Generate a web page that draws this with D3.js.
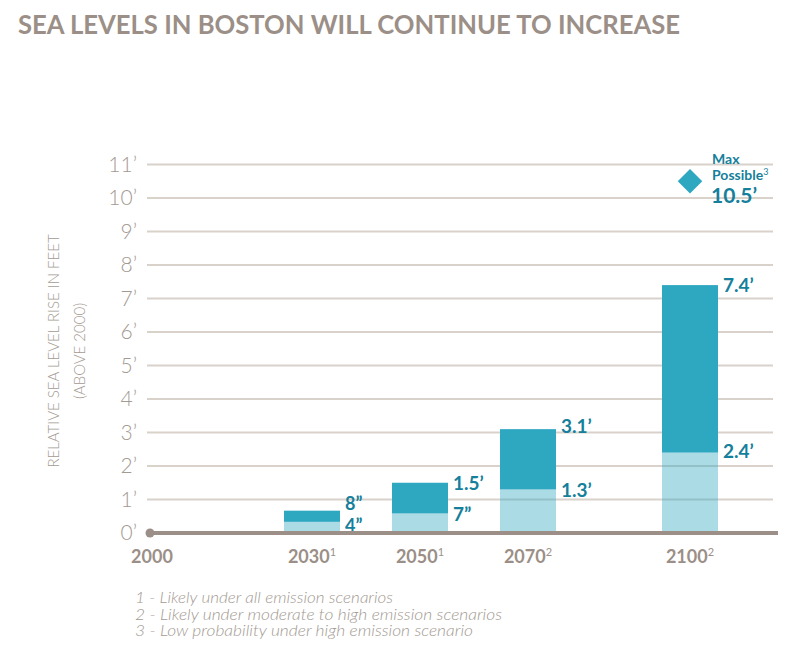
<!DOCTYPE html>
<html><head><meta charset="utf-8">
<script src="https://cdn.jsdelivr.net/npm/d3@7"></script>
<style>body{margin:0;background:#fff}svg{display:block}</style>
</head><body>
<script>
const years = [2030, 2050, 2070, 2100];
const supers = ["1", "1", "2", "2"];
const lowVals = [4/12, 7/12, 1.3, 2.4];
const highVals = [8/12, 1.5, 3.1, 7.4];
const lowLabels = ["4\u201D", "7\u201D", "1.3\u2019", "2.4\u2019"];
const highLabels = ["8\u201D", "1.5\u2019", "3.1\u2019", "7.4\u2019"];
const maxYear = 2100, maxVal = 10.5, maxLabel = "10.5\u2019";
const yTicks = [0,1,2,3,4,5,6,7,8,9,10,11];
const footnotes = ["1 - Likely under all emission scenarios","2 - Likely under moderate to high emission scenarios","3 - Low probability under high emission scenario"];
const footWidths = [258, 367, 338];

const W = 811, H = 657;
const svg = d3.select("body").append("svg").attr("width", W).attr("height", H);
const gray = "#9b8f87", teal = "#2ea7c1", tealText = "#167f9b";
const FF = "Lato, 'Open Sans', sans-serif";

const x = d3.scaleLinear().domain([2000, 2100]).range([150, 690]);
const y = d3.scaleLinear().domain([0, 11]).range([533, 164.5]);
const bw = 56;

svg.append("text").attr("x", 18).attr("y", 34).attr("font-family", FF)
  .attr("font-weight", 700).attr("font-size", 26).attr("fill", gray)
  .attr("textLength", 662).attr("lengthAdjust", "spacingAndGlyphs")
  .text("SEA LEVELS IN BOSTON WILL CONTINUE TO INCREASE");

// gridlines
svg.append("g").selectAll("line").data(yTicks.filter(d => d > 0)).join("line")
  .attr("x1", 147).attr("x2", 773).attr("y1", d => y(d)).attr("y2", d => y(d))
  .attr("stroke", "#d9d2cb").attr("stroke-width", 2);

// y tick labels
svg.append("g").selectAll("text").data(yTicks).join("text")
  .attr("x", 137).attr("y", d => y(d)).attr("dy", "0.35em").attr("text-anchor", "end")
  .attr("font-family", FF).attr("font-weight", 300)
  .attr("font-size", 21).attr("fill", "#a39a92").text(d => d + "\u2019");

// y title
const yt = svg.append("g").attr("transform", "translate(0,351) rotate(-90)");
yt.append("text").attr("x", 0).attr("y", 59).attr("text-anchor", "middle")
  .attr("font-family", FF).attr("font-weight", 300)
  .attr("font-size", 15).attr("fill", "#a39a92").text("RELATIVE SEA LEVEL RISE IN FEET");
yt.append("text").attr("x", 0).attr("y", 85).attr("text-anchor", "middle")
  .attr("font-family", FF).attr("font-weight", 300)
  .attr("font-size", 15).attr("fill", "#a39a92").text("(ABOVE 2000)");

// bars
const bars = svg.append("g");
years.forEach((yr, i) => {
  bars.append("rect").attr("x", x(yr) - bw/2).attr("width", bw)
    .attr("y", y(highVals[i])).attr("height", y(lowVals[i]) - y(highVals[i])).attr("fill", teal);
  bars.append("rect").attr("x", x(yr) - bw/2).attr("width", bw)
    .attr("y", y(lowVals[i])).attr("height", y(0) - y(lowVals[i])).attr("fill", teal).attr("fill-opacity", 0.4);
});

// value labels
const hiOff = [-7, 0, -3, 0], loOff = [4, 1, 1, -1];
years.forEach((yr, i) => {
  svg.append("text").attr("x", x(yr) + bw/2 + 5).attr("y", y(highVals[i]) + hiOff[i]).attr("dy", "0.36em")
    .attr("font-family", FF).attr("font-weight", 700).attr("font-size", i === 0 ? 18 : 19)
    .attr("fill", tealText).text(highLabels[i]);
  svg.append("text").attr("x", x(yr) + bw/2 + 5).attr("y", y(lowVals[i]) + loOff[i]).attr("dy", "0.36em")
    .attr("font-family", FF).attr("font-weight", 700).attr("font-size", i === 0 ? 18 : 19)
    .attr("fill", tealText).text(lowLabels[i]);
});

// baseline
svg.append("line").attr("x1", 150).attr("x2", 778).attr("y1", y(0)).attr("y2", y(0))
  .attr("stroke", gray).attr("stroke-width", 4);
svg.append("circle").attr("cx", x(2000)).attr("cy", y(0)).attr("r", 4.5).attr("fill", gray);

// x labels
const xl = svg.append("g");
xl.append("text").attr("x", x(2000) + 2).attr("y", 563).attr("text-anchor", "middle")
  .attr("font-family", FF).attr("font-weight", 700).attr("font-size", 18)
  .attr("fill", gray).text("2000");
years.forEach((yr, i) => {
  const t = xl.append("text").attr("x", x(yr)).attr("y", 563).attr("text-anchor", "middle")
    .attr("font-family", FF).attr("font-weight", 700).attr("font-size", 18)
    .attr("fill", gray);
  t.append("tspan").text(yr);
  t.append("tspan").attr("font-size", 11).attr("dy", -7).attr("font-weight", 400).text(supers[i]);
});

// max possible
const mx = x(maxYear), my = y(maxVal);
svg.append("path").attr("d", d3.symbol(d3.symbolSquare, 300)()).attr("transform", `translate(${mx},${my}) rotate(45)`).attr("fill", teal);
svg.append("text").attr("x", mx + 22).attr("y", 164)
  .attr("font-family", FF).attr("font-weight", 700).attr("font-size", 14).attr("fill", tealText).text("Max");
const pt = svg.append("text").attr("x", mx + 22).attr("y", 180)
  .attr("font-family", FF).attr("font-weight", 700).attr("font-size", 14).attr("fill", tealText);
pt.append("tspan").text("Possible");
pt.append("tspan").attr("font-size", 9).attr("dy", -5).attr("font-weight", 400).text("3");
svg.append("text").attr("x", mx + 21).attr("y", 203)
  .attr("font-family", FF).attr("font-weight", 700).attr("font-size", 21).attr("fill", tealText).text(maxLabel);

// footnotes
svg.append("g").selectAll("text").data(footnotes).join("text")
  .attr("x", 135).attr("y", (d, i) => 603 + i * 16.5)
  .attr("font-family", FF).attr("font-style", "italic").attr("font-weight", 300)
  .attr("font-size", 15).attr("fill", "#a39a92")
  .attr("textLength", (d, i) => footWidths[i]).attr("lengthAdjust", "spacingAndGlyphs")
  .text(d => d);
</script>
</body></html>
